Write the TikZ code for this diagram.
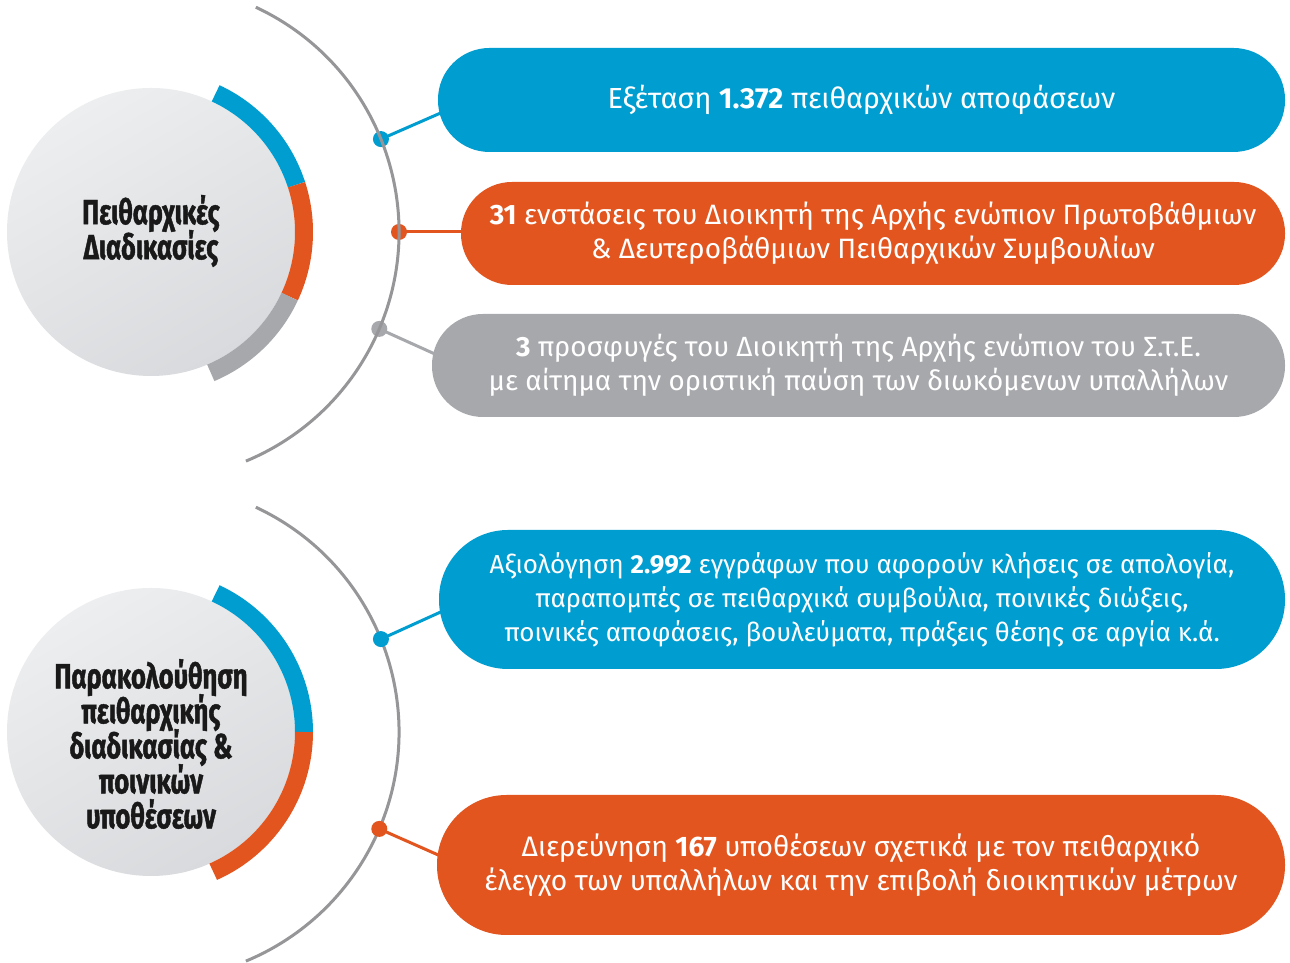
\documentclass[tikz,border=0pt]{standalone}
\usepackage{fontspec}
\setmainfont{Fira Sans}
\newfontfamily\circfont[FakeStretch=0.73, BoldFeatures={FakeBold=1.2}]{Fira Sans}
\usetikzlibrary{calc}
\newcommand\mytight{\lineskiplimit=-60pt\relax\lineskip=0pt\relax}
\definecolor{cblue}{RGB}{0,157,208}
\definecolor{corange}{RGB}{226,85,31}
\definecolor{cgray}{RGB}{167,168,172}
\definecolor{carc}{RGB}{150,150,153}
\definecolor{ctop}{RGB}{237,238,239}
\definecolor{cbot}{RGB}{217,218,221}
\tikzset{
  hub/.style={circle, minimum size=288pt, inner sep=0pt, top color=ctop, bottom color=cbot, shading angle=30},
  hubtext/.style={font=\circfont\bfseries\fontsize{35pt}{35pt}\selectfont\mytight,
    text=black!90, align=center},
  pill/.style={inner sep=0pt, text=white, align=center},
  pfont/.style={font=\fontsize{#1}{34pt}\selectfont\mytight},
  slot/.style={inner sep=0pt},
  ring/.style={line width=18pt},
  bigarc/.style={draw=carc, line width=3pt},
  conn/.style={line width=3pt},
  dotnode/.style={circle, inner sep=0pt, minimum size=16pt},
}
\begin{document}
\begin{tikzpicture}[x=1pt,y=1pt]
\useasboundingbox (0,0) rectangle (1290,963);
\fill[white] (0,0) rectangle (1290,963);

% ---------- top group ----------
\coordinate (c1) at (151,731);
\node[hub] (h1) at (c1) {};
\node[hubtext] (t1) at (151,732) {Πειθαρχικές\\Διαδικασίες};
\draw[ring, cblue]   ($(c1)+(65:153)$) arc[start angle=65, end angle=18, radius=153];
\draw[ring, corange] ($(c1)+(18:153)$) arc[start angle=18, end angle=-25, radius=153];
\draw[ring, cgray]   ($(c1)+(-25:153)$) arc[start angle=-25, end angle=-67, radius=153];

\node[slot, minimum width=847pt, minimum height=104pt] (p1) at (861.5,863) {};
\node[slot, minimum width=824pt, minimum height=103pt] (p2) at (873,729.5) {};
\node[slot, minimum width=853pt, minimum height=103pt] (p3) at (858.5,597.5) {};
\coordinate (d1) at ($(c1)+(22:248)$);
\coordinate (d2) at ($(c1)+(0:248)$);
\coordinate (d3) at ($(c1)+(-23:248)$);
\draw[conn, cblue] (d1) -- ([xshift=12pt,yshift=-9pt]p1.west);
\draw[conn, corange] (d2) -- ([xshift=6pt]d2 -| p2.west);
\draw[conn, cgray] (d3) -- ([xshift=13pt,yshift=7pt]p3.west);
\node[dotnode, fill=cblue] (n1) at (d1) {};
\node[dotnode, fill=corange] (n2) at (d2) {};
\node[dotnode, fill=cgray] (n3) at (d3) {};
\draw[bigarc] ($(c1)+(65:248)$) arc[start angle=65, end angle=-67.5, radius=248];
\node[pill, pfont=29pt, fill=cblue, minimum width=847pt, minimum height=104pt, rounded corners=51.5pt] (b1) at (p1)
  {Εξέταση \textbf{1.372} πειθαρχικών αποφάσεων};
\node[pill, pfont=28pt, fill=corange, minimum width=824pt, minimum height=103pt, rounded corners=51pt] (b2) at (p2)
  {\textbf{31} ενστάσεις του Διοικητή της Αρχής ενώπιον Πρωτοβάθμιων\\\& Δευτεροβάθμιων Πειθαρχικών Συμβουλίων};
\node[pill, pfont=27.8pt, fill=cgray, minimum width=853pt, minimum height=103pt, rounded corners=51pt] (b3) at (p3)
  {\textbf{3} προσφυγές του Διοικητή της Αρχής ενώπιον του Σ.τ.Ε.\\με αίτημα την οριστική παύση των διωκόμενων υπαλλήλων};

% ---------- bottom group ----------
\coordinate (c2) at (151,231);
\node[hub] (h2) at (c2) {};
\node[hubtext] (t2) at (151,219)
  {Παρακολούθηση\\πειθαρχικής\\διαδικασίας \&\\ποινικών\\υποθέσεων};
\draw[ring, cblue]   ($(c2)+(65:153)$) arc[start angle=65, end angle=0, radius=153];
\draw[ring, corange] ($(c2)+(0:153)$) arc[start angle=0, end angle=-66, radius=153];
\draw[bigarc] ($(c2)+(65:248)$) arc[start angle=65, end angle=-67.5, radius=248];

\node[slot, minimum width=846pt, minimum height=139pt] (p4) at (862,363.5) {};
\node[slot, minimum width=848pt, minimum height=140pt] (p5) at (861,98) {};
\coordinate (d4) at ($(c2)+(22:248)$);
\coordinate (d5) at ($(c2)+(-23:248)$);
\draw[conn, cblue] (d4) -- ([xshift=14pt,yshift=-7pt]p4.west);
\draw[conn, corange] (d5) -- ([xshift=15pt,yshift=4pt]p5.west);
\node[dotnode, fill=cblue] (n4) at (d4) {};
\node[dotnode, fill=corange] (n5) at (d5) {};
\node[pill, pfont=26pt, fill=cblue, minimum width=846pt, minimum height=139pt, rounded corners=69pt] (b4) at (p4)
  {Αξιολόγηση \textbf{2.992} εγγράφων που αφορούν κλήσεις σε απολογία,\\παραπομπές σε πειθαρχικά συμβούλια, ποινικές διώξεις,\\ποινικές αποφάσεις, βουλεύματα, πράξεις θέσης σε αργία κ.ά.};
\node[pill, pfont=28.2pt, fill=corange, minimum width=848pt, minimum height=140pt, rounded corners=69.5pt] (b5) at (p5)
  {Διερεύνηση \textbf{167} υποθέσεων σχετικά με τον πειθαρχικό\\έλεγχο των υπαλλήλων και την επιβολή διοικητικών μέτρων};
\end{tikzpicture}
\end{document}
